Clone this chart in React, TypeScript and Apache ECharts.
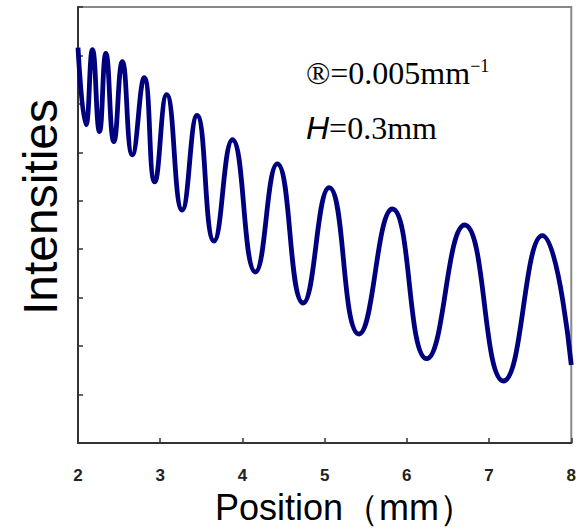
import React, { useEffect, useRef } from "react";
import * as echarts from "echarts";

// Positions (mm) of the peaks / troughs
const positions = [
  2.0, 2.097, 2.176, 2.261, 2.339, 2.436, 2.539, 2.661, 2.806, 2.933,
  3.079, 3.267, 3.448, 3.655, 3.879, 4.158, 4.424, 4.739, 5.055, 5.418,
  5.824, 6.242, 6.703, 7.176, 7.648, 8.0,
];
// Intensities (arbitrary units) at those positions
const intensities = [
  8.16, 6.57, 8.12, 6.43, 8.04, 6.22, 7.87, 5.95, 7.54, 5.39,
  7.19, 4.81, 6.76, 4.17, 6.26, 3.53, 5.76, 2.89, 5.27, 2.25,
  4.83, 1.74, 4.5, 1.28, 4.28, 1.61,
];
const xTicks = [2, 3, 4, 5, 6, 7, 8];
const xTitle = "Position（mm）";
const yTitle = "Intensities";
const annot1 = "®=0.005mm";
const annot1Sup = "−1";
const annot2H = "H";
const annot2Rest = "=0.3mm";

export default function App() {
  const ref = useRef<HTMLDivElement>(null);
  useEffect(() => {
    if (!ref.current) return;
    const chart = echarts.init(ref.current, undefined, { renderer: "svg" });
    const data = positions.map((p, i) => [p, intensities[i]]);
    chart.setOption({
      animation: false,
      backgroundColor: "#ffffff",
      grid: {
        left: 78,
        right: 6,
        top: 7,
        bottom: 87,
        show: true,
        borderColor: "#888888",
        borderWidth: 2,
      },
      xAxis: {
        type: "value",
        min: xTicks[0],
        max: xTicks[xTicks.length - 1],
        interval: 1,
        splitLine: { show: false },
        axisLine: { show: true, lineStyle: { color: "#333333", width: 2 } },
        axisTick: { show: true, inside: true, length: 5, lineStyle: { color: "#333333", width: 1.5 } },
        axisLabel: {
          margin: 24,
          fontSize: 17,
          fontWeight: "bold",
          color: "#222222",
          fontFamily: "Liberation Sans, Arial, sans-serif",
        },
      },
      yAxis: {
        type: "value",
        min: 0,
        max: 9,
        interval: 1,
        splitLine: { show: false },
        axisLine: { show: true, lineStyle: { color: "#333333", width: 2 } },
        axisTick: { show: true, inside: true, length: 5, lineStyle: { color: "#333333", width: 1.5 } },
        axisLabel: { show: false },
      },
      series: [
        {
          type: "line",
          data,
          smooth: 0.5,
          showSymbol: false,
          lineStyle: { color: "#00007f", width: 4.8 },
        },
      ],
      graphic: [
        {
          type: "text",
          left: 215,
          top: 489,
          style: {
            text: xTitle,
            fontSize: 36,
            fill: "#000000",
            fontFamily: "Liberation Sans, Arial, sans-serif",
          },
        },
        {
          type: "text",
          x: 40,
          y: 207,
          rotation: Math.PI / 2,
          style: {
            text: yTitle,
            fontSize: 48,
            fill: "#000000",
            align: "center",
            verticalAlign: "middle",
            fontFamily: "Liberation Sans, Arial, sans-serif",
          },
        },
        {
          type: "text",
          left: 306,
          top: 57,
          style: {
            text: "{a|" + annot1 + "}{s|" + annot1Sup + "}",
            rich: {
              a: { fontSize: 32, fontFamily: "Liberation Serif, Times New Roman, serif", fill: "#000" },
              s: {
                fontSize: 18,
                fontFamily: "Liberation Serif, Times New Roman, serif",
                fill: "#000",
                verticalAlign: "top",
                padding: [0, 0, 14, 0],
              },
            },
          },
        },
        {
          type: "text",
          left: 306,
          top: 112,
          style: {
            text: "{h|" + annot2H + "}{a|" + annot2Rest + "}",
            rich: {
              h: { fontSize: 32, fontStyle: "italic", fontFamily: "Liberation Sans, Arial, sans-serif", fill: "#000" },
              a: { fontSize: 32, fontFamily: "Liberation Serif, Times New Roman, serif", fill: "#000" },
            },
          },
        },
      ],
    });
    return () => chart.dispose();
  }, []);
  return (
    <div
      ref={ref}
      style={{ position: "absolute", left: 0, top: 0, width: 579, height: 530 }}
    />
  );
}
